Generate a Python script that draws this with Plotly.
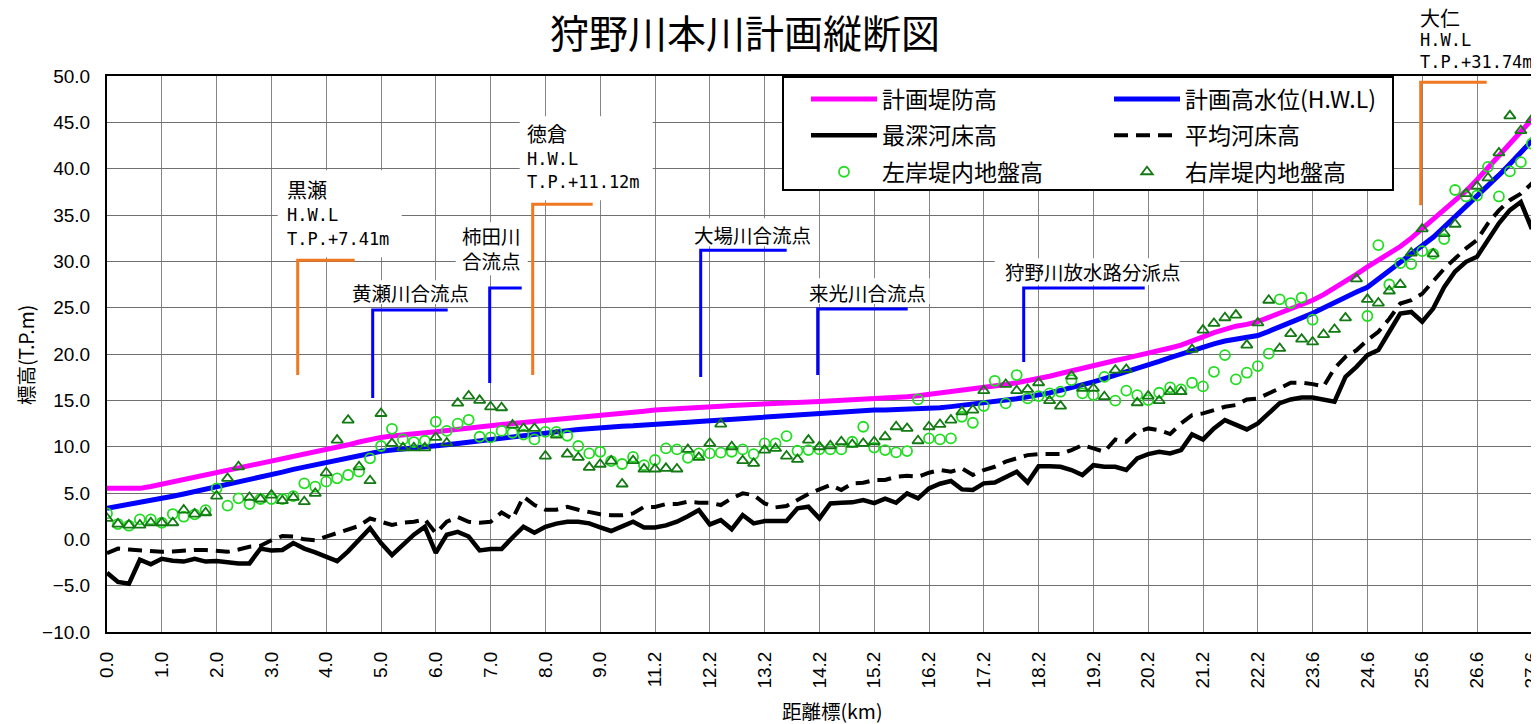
import plotly.graph_objects as go

# ---------------- data ----------------
tick_labels = ["0.0", "1.0", "2.0", "3.0", "4.0", "5.0", "6.0", "7.0", "8.0", "9.0",
               "11.2", "12.2", "13.2", "14.2", "15.2", "16.2", "17.2", "18.2", "19.2",
               "20.2", "21.2", "22.2", "23.6", "24.6", "25.6", "26.6", "27.6"]

# 計画堤防高
levee = [5.5, 5.5, 5.45, 5.5, 5.7, 5.95, 6.2, 6.45, 6.7, 6.9,
         7.1, 7.35, 7.6, 7.85, 8.1, 8.4, 8.65, 8.9, 9.15, 9.4,
         9.7, 9.95, 10.2, 10.5, 10.8, 11.0, 11.15, 11.3, 11.4, 11.5,
         11.6, 11.75, 11.9, 12.0, 12.15, 12.3, 12.4, 12.5, 12.6, 12.75,
         12.87, 12.97, 13.1, 13.2, 13.3, 13.4, 13.5, 13.6, 13.7, 13.83,
         13.95, 14.0, 14.07, 14.15, 14.22, 14.3, 14.37, 14.45, 14.52, 14.6,
         14.66, 14.7, 14.75, 14.8, 14.83, 14.87, 14.92, 14.97, 15.02, 15.07,
         15.12, 15.2, 15.28, 15.38, 15.5, 15.65, 15.8, 15.95, 16.1, 16.2,
         16.3, 16.5, 16.7, 16.9, 17.1, 17.35, 17.6, 17.9, 18.2, 18.5,
         18.8, 19.05, 19.3, 19.55, 19.8, 20.06, 20.35, 20.65, 20.95, 21.35,
         21.85, 22.3, 22.7, 23.0, 23.2, 23.5, 23.95, 24.4, 24.85, 25.3,
         25.8, 26.4, 27.1, 27.8, 28.6, 29.4, 30.1, 30.85, 31.6, 32.5,
         33.5, 34.5, 35.6, 36.6, 37.6, 38.8, 40.1, 41.3, 42.6, 43.9,
         45.3, 47.2]

# 計画高水位(H.W.L)
hwl = [3.35, 3.55, 3.75, 3.95, 4.2, 4.4, 4.65, 4.9, 5.15, 5.45,
       5.75, 6.0, 6.25, 6.5, 6.75, 7.0, 7.25, 7.55, 7.8, 8.1,
       8.37, 8.6, 8.85, 9.1, 9.35, 9.5, 9.65, 9.75, 9.85, 9.92,
       10.0, 10.2, 10.35, 10.5, 10.65, 10.8, 10.95, 11.1, 11.2, 11.35,
       11.5, 11.62, 11.73, 11.85, 11.97, 12.08, 12.15, 12.2, 12.25, 12.3,
       12.38, 12.47, 12.55, 12.63, 12.72, 12.8, 12.88, 12.96, 13.04, 13.12,
       13.2, 13.29, 13.38, 13.47, 13.56, 13.66, 13.72, 13.78, 13.84, 13.9,
       13.95, 13.97, 14.0, 14.02, 14.05, 14.1, 14.2, 14.32, 14.45, 14.56,
       14.67, 14.82, 15.0, 15.18, 15.37, 15.56, 15.8, 16.08, 16.36, 16.68,
       17.0, 17.35, 17.7, 18.05, 18.42, 18.8, 19.2, 19.6, 20.0, 20.4,
       20.78, 21.1, 21.4, 21.6, 21.8, 22.0, 22.45, 22.9, 23.4, 23.9,
       24.4, 25.0, 25.6, 26.2, 26.7, 27.2, 28.1, 29.0, 29.95, 30.8,
       31.6, 32.6, 33.7, 34.8, 35.9, 37.0, 38.2, 39.3, 40.5, 41.7,
       43.0, 45.6]

# 最深河床高
deepest = [-3.6, -4.6, -4.8, -2.2, -2.7, -2.1, -2.3, -2.4, -2.1, -2.4,
           -2.35, -2.5, -2.6, -2.6, -1.0, -1.2, -1.15, -0.4, -1.0, -1.4,
           -1.9, -2.35, -1.3, -0.1, 1.2, -0.4, -1.7, -0.6, 0.5, 1.35,
           -1.45, 0.5, 0.8, 0.3, -1.2, -1.05, -1.05, 0.2, 1.36, 0.71,
           1.36, 1.7, 1.9, 1.9, 1.72, 1.3, 0.9, 1.4, 1.9, 1.29,
           1.29, 1.5, 1.9, 2.5, 3.16, 1.61, 2.08, 1.08, 2.62, 1.72,
           1.97, 1.97, 1.97, 3.34, 3.52, 2.26, 3.88, 3.95, 3.99, 4.24,
           3.9, 4.4, 3.95, 4.96, 4.42, 5.5, 6.0, 6.3, 5.39, 5.32,
           6.04, 6.14, 6.68, 7.3, 6.14, 7.9, 7.9, 7.83, 7.48, 6.94,
           8.0, 7.83, 7.83, 7.48, 8.74, 9.2, 9.45, 9.27, 9.63, 11.32,
           10.78, 11.97, 12.87, 12.33, 11.86, 12.5, 13.6, 14.7, 15.1, 15.3,
           15.3, 15.1, 14.85, 17.54, 18.62, 19.88, 20.42, 22.4, 24.36, 24.54,
           23.48, 24.9, 27.2, 28.9, 29.95, 30.5, 32.3, 34.1, 35.52, 36.4,
           33.5, 43.5]

# 平均河床高
mean_bed = [-1.5, -1.0, -1.1, -1.2, -1.35, -1.35, -1.3, -1.2, -1.15, -1.15,
            -1.2, -1.35, -1.1, -0.8, -0.7, -0.1, 0.35, 0.3, 0.0, -0.1,
            0.3, 0.7, 1.1, 1.45, 2.25, 1.9, 1.55, 1.8, 1.9, 2.15,
            0.65, 1.9, 2.4, 1.9, 1.8, 1.9, 2.9, 2.2, 4.6, 3.7,
            3.2, 3.2, 3.5, 3.2, 2.9, 2.7, 2.6, 2.6, 2.8, 3.5,
            3.5, 3.8, 3.8, 4.06, 3.95, 3.95, 3.7, 4.42, 4.96, 4.78,
            3.88, 3.45, 3.6, 4.24, 4.9, 5.39, 5.86, 5.32, 6.04, 6.1,
            6.4, 6.4, 6.76, 6.86, 6.76, 7.19, 7.48, 7.3, 7.66, 6.94,
            7.48, 7.83, 8.38, 8.74, 9.09, 9.2, 9.2, 9.2, 9.63, 10.17,
            9.81, 9.45, 10.78, 10.53, 11.61, 11.97, 11.79, 11.36, 12.51, 13.41,
            13.59, 13.95, 14.31, 14.49, 15.1, 15.2, 15.7, 16.3, 16.9, 16.9,
            16.75, 16.5, 18.45, 19.7, 20.4, 21.5, 22.4, 23.8, 25.45, 25.8,
            26.5, 27.8, 29.2, 30.3, 31.4, 32.3, 34.1, 35.5, 36.6, 37.3,
            38.4, 40.0]

# 左岸堤内地盤高
left_ground = [2.8, 1.65, 1.47, 2.15, 2.15, 1.79, 2.73, 2.44, 2.7, 3.16,
               5.5, 3.63, 4.42, 3.81, 4.35, 4.35, 4.35, 4.67, 6.04, 5.68,
               6.22, 6.58, 6.94, 7.3, 8.74, 10.07, 11.93, 10.78, 10.5, 10.64,
               12.69, 11.7, 12.48, 12.9, 11.07, 11.0, 11.7, 11.5, 11.3, 10.78,
               11.6, 11.6, 11.18, 10.07, 9.27, 9.45, 8.45, 8.13, 8.9, 8.0,
               8.56, 9.81, 9.7, 8.8, 9.27, 9.27, 9.35, 9.45, 9.7, 9.2,
               10.35, 10.35, 11.14, 9.56, 9.63, 9.7, 9.7, 9.7, 10.53, 12.15,
               9.9, 9.63, 9.38, 9.52, 15.1, 10.89, 10.78, 10.89, 13.23, 12.58,
               14.38, 17.11, 14.67, 17.73, 15.21, 15.46, 15.75, 15.93, 17.18, 15.75,
               15.57, 17.54, 14.96, 16.04, 15.57, 15.03, 15.82, 16.4, 16.18, 16.9,
               16.5, 18.08, 19.88, 17.26, 17.98, 18.7, 20.05, 25.9, 25.5, 26.07,
               23.7, None, None, None, None, 24.1, 31.75, 27.5, 29.8, 29.7,
               31.1, 30.8, 32.4, 37.7, 37.0, 37.1, 40.2, 37.0, 39.7, 40.7,
               42.7, 48.5]

# 右岸堤内地盤高
right_ground = [2.26, 1.65, 1.54, 1.54, 1.79, 1.79, 1.79, 3.16, 2.73, 2.87,
                4.67, 6.58, 7.83, 4.53, 4.35, 4.78, 4.17, 4.53, 4.06, 4.96,
                7.18, 10.71, 12.86, 7.83, 6.33, 13.58, 10.35, 9.88, 9.88, 9.88,
                11.0, 10.4, 14.7, 15.46, 15.0, 14.3, 14.2, 12.33, 11.97, 11.97,
                8.99, 11.25, 9.2, 8.84, 7.77, 8.1, 8.45, 5.97, 8.49, 7.59,
                7.59, 7.66, 7.59, 9.7, 8.84, 10.35, 12.44, 9.99, 8.49, 8.2,
                9.63, 9.81, 8.99, 8.63, 10.71, 9.99, 10.1, 10.53, 10.24, 10.35,
                10.53, 11.07, 12.15, 11.97, 10.64, 12.15, 12.4, 12.87, 13.77, 13.95,
                16.04, None, 16.72, 16.04, 16.18, 16.9, 14.96, 14.38, 17.62, 16.29,
                16.29, 15.39, 18.26, 18.34, 14.74, 15.46, 14.96, 15.93, 15.93, 20.5,
                22.58, 23.3, 23.91, 24.2, 20.96, 23.36, 25.8, 20.6, 22.2, 21.6,
                21.3, 22.1, 22.65, 23.9, 28.1, 25.9, 25.5, 26.8, 27.5, 30.9,
                33.5, 30.8, 33.0, 34.0, 37.3, 38.1, 39.0, 41.7, 45.7, 44.1,
                45.3, None]

# annotation texts
marker_labels = ["黄瀬川合流点", "柿田川<br>合流点", "大場川合流点", "来光川合流点", "狩野川放水路分派点"]

# ---------------- geometry helpers (page pixel -> axis units) ----------------
# The page body has an 8px margin, so the figure is drawn 8px right/down.
OFF = 8
FIG_W, FIG_H = 1539 - OFF, 724 - OFF
PL, PT, PB = 107, 76, 632          # plot area in page pixels (left, top, bottom)
PR = 1539
X0, DX = 107.3, 10.96      # px of first category, px per category
Y0, DY = 539.3, 9.27       # px of 0.0, px per metre


def xi(px):
    return (px - X0) / DX


def yv(py):
    return (Y0 - py) / DY


def px2paper_x(px):
    return (px - PL) / (PR - PL)


def px2paper_y(py):
    return (PB - py) / (PB - PT)


idx = list(range(len(levee)))
tickvals = [5 * j for j in range(len(tick_labels))]

CJK = "Noto Sans CJK JP"
MONO = "DejaVu Sans Mono"

fig = go.Figure()

fig.add_trace(go.Scatter(x=idx, y=hwl, mode="lines", name="計画高水位(H.W.L)",
                         line=dict(color="#0000FF", width=5),
                         legend="legend2", legendgroup="b1"))
fig.add_trace(go.Scatter(x=idx, y=levee, mode="lines", name="計画堤防高",
                         line=dict(color="#FF00FF", width=5),
                         legend="legend", legendgroup="a1"))
fig.add_trace(go.Scatter(x=idx, y=mean_bed, mode="lines", name="平均河床高",
                         line=dict(color="#000000", width=4, dash="14px,8px"),
                         legend="legend2", legendgroup="b2"))
fig.add_trace(go.Scatter(x=idx, y=deepest, mode="lines", name="最深河床高",
                         line=dict(color="#000000", width=4.5),
                         legend="legend", legendgroup="a2"))
fig.add_trace(go.Scatter(x=idx, y=left_ground, mode="markers", name="左岸堤内地盤高",
                         marker=dict(symbol="circle-open", size=10, color="#22DD22",
                                     line=dict(width=1.8, color="#22DD22")),
                         legend="legend", legendgroup="a3"))
fig.add_trace(go.Scatter(x=idx, y=right_ground, mode="markers", name="右岸堤内地盤高",
                         marker=dict(symbol="triangle-up-open", size=10, color="#137A13",
                                     line=dict(width=1.8, color="#137A13")),
                         legend="legend2", legendgroup="b3"))

shapes = []
annotations = []

# white boxes behind labels (cover grid)
boxes = [(278, 402, 170, 257), (520, 653, 116, 200), (456, 528, 222, 275),
         (345, 472, 280, 304), (688, 815, 218, 246), (803, 930, 278, 304),
         (995, 1180, 258, 285)]
for (a, b, c, d) in boxes:
    shapes.append(dict(type="rect", xref="x", yref="y", x0=xi(a), x1=xi(b),
                       y0=yv(d), y1=yv(c), fillcolor="white", line=dict(width=0),
                       layer="above"))

# brackets (orange = HWL points, blue = confluences)
brackets = [
    ("#F07820", 298, 355, 260, 375),
    ("#F07820", 533, 593, 204, 375),
    ("#F07820", 1421, 1487, 82, 205),
    ("#0000FF", 373, 448, 310, 398),
    ("#0000FF", 490, 522, 288, 383),
    ("#0000FF", 701, 787, 250, 377),
    ("#0000FF", 818, 908, 309, 375),
    ("#0000FF", 1024, 1145, 288, 362),
]
for (col, xa, xb, ytop, ybot) in brackets:
    shapes.append(dict(type="path", xref="x", yref="y",
                       path=f"M {xi(xa)},{yv(ybot)} L {xi(xa)},{yv(ytop)} L {xi(xb)},{yv(ytop)}",
                       line=dict(color=col, width=3), layer="above"))

# legend frame
shapes.append(dict(type="rect", xref="paper", yref="paper",
                   x0=px2paper_x(783), x1=px2paper_x(1393),
                   y0=px2paper_y(190), y1=px2paper_y(77),
                   fillcolor="white", line=dict(color="black", width=2), layer="above"))


def ann(text, px, py, size, family, xanchor="left"):
    annotations.append(dict(text=text, x=xi(px), y=px2paper_y(py), xref="x", yref="paper",
                            xanchor=xanchor, yanchor="middle", showarrow=False,
                            font=dict(size=size, family=family, color="black")))


# station HWL labels
ann("黒瀬", 285, 190, 20, CJK)
ann("H.W.L", 285, 215, 17, MONO)
ann("T.P.+7.41m", 285, 239, 17, MONO)
ann("徳倉", 525, 133, 20, CJK)
ann("H.W.L", 525, 159, 17, MONO)
ann("T.P.+11.12m", 525, 182, 17, MONO)
ann("大仁", 1418, 17, 20, CJK)
ann("H.W.L", 1418, 40, 17, MONO)
ann("T.P.+31.74m", 1418, 62, 17, MONO)

# confluence labels
ann(marker_labels[0], 350, 292, 19.5, CJK)
annotations.append(dict(text=marker_labels[1], x=xi(492), y=px2paper_y(248), xref="x",
                        yref="paper", xanchor="center", yanchor="middle", showarrow=False,
                        align="center", font=dict(size=19.5, family=CJK, color="black")))
ann(marker_labels[2], 692, 234, 19.5, CJK)
ann(marker_labels[3], 807, 292, 19.5, CJK)
ann(marker_labels[4], 1003, 271, 19.5, CJK)

# axis titles
annotations.append(dict(text="標高(T.P.m)", x=px2paper_x(25), y=px2paper_y(355),
                        xref="paper", yref="paper", textangle=-90, showarrow=False,
                        xanchor="center", yanchor="middle",
                        font=dict(size=19.5, family=CJK, color="black")))
annotations.append(dict(text="距離標(km)", x=px2paper_x(833), y=px2paper_y(710),
                        xref="paper", yref="paper", showarrow=False,
                        xanchor="center", yanchor="middle",
                        font=dict(size=19.5, family=CJK, color="black")))

legend_common = dict(bgcolor="rgba(0,0,0,0)", borderwidth=0, orientation="v",
                     xanchor="left", yanchor="top", itemwidth=66, tracegroupgap=3.5,
                     font=dict(size=23, family=CJK, color="black"))

fig.update_layout(
    width=FIG_W, height=FIG_H,
    margin=dict(l=PL - OFF, r=FIG_W - (PR - OFF), t=PT - OFF, b=FIG_H - (PB - OFF),
                autoexpand=False),
    paper_bgcolor="white", plot_bgcolor="white",
    title=dict(text="狩野川本川計画縦断図", x=(745 - OFF) / FIG_W, y=1 - (34 - OFF) / FIG_H,
               xref="container", yref="container", xanchor="center", yanchor="middle",
               font=dict(size=39, family=CJK, color="black")),
    showlegend=True,
    legend=dict(x=px2paper_x(806), y=px2paper_y(77.5), **legend_common),
    legend2=dict(x=px2paper_x(1109), y=px2paper_y(77.5), **legend_common),
    xaxis=dict(range=[0, (PR - PL) / DX], tickmode="array", tickvals=tickvals,
               ticktext=tick_labels, tickangle=-90, showgrid=True,
               gridcolor="#858585", gridwidth=1, showline=True, linecolor="black",
               linewidth=2, mirror=True, ticks="", zeroline=False,
               ticklabelstandoff=10, ticklabeloverflow="allow",
               tickfont=dict(size=19, family="Liberation Sans", color="black")),
    yaxis=dict(range=[-10, 50], tickmode="linear", tick0=-10, dtick=5, tickformat=".1f",
               showgrid=True, gridcolor="#707070", gridwidth=1, showline=True,
               linecolor="black", linewidth=2, ticks="", zeroline=False,
               ticklabelstandoff=11,
               tickfont=dict(size=19, family="Liberation Sans", color="black")),
    shapes=shapes,
    annotations=annotations,
)

fig.write_html("out.html")
